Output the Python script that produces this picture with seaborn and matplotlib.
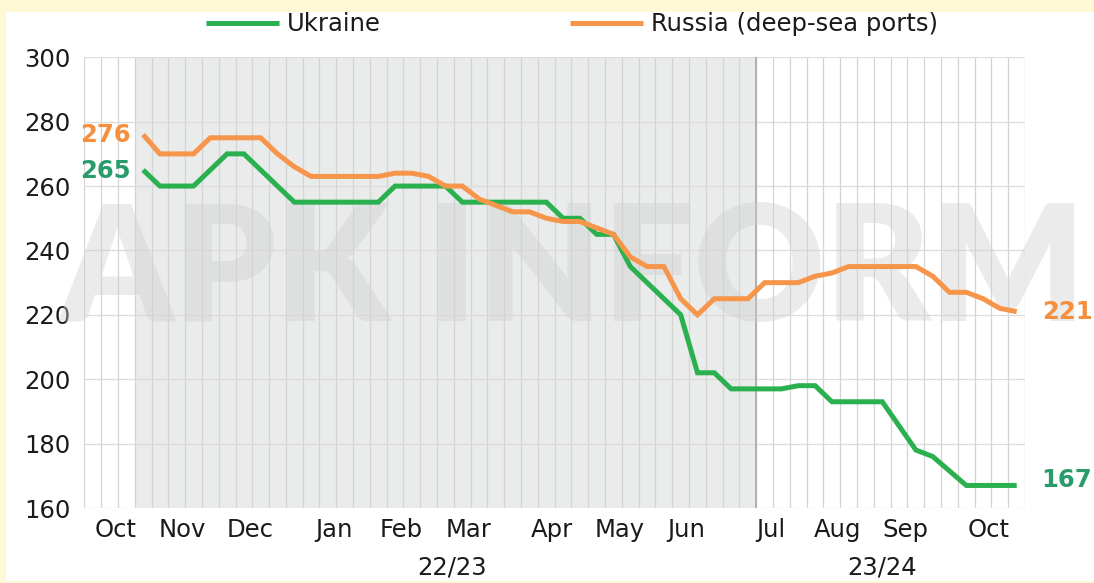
import numpy as np
import pandas as pd
import seaborn as sns
import matplotlib.pyplot as plt
from matplotlib.patches import Rectangle
from matplotlib.transforms import blended_transform_factory

# weekly prices, USD/t, first week sits in the 4th weekly slot of the axis
ukraine = [265, 260, 260, 260, 265, 270, 270, 265, 260, 255, 255, 255, 255, 255,
           255, 260, 260, 260, 260, 255, 255, 255, 255, 255, 255, 250, 250, 245,
           245, 235, 230, 225, 220, 202, 202, 197, 197, 197, 197, 198, 198, 193,
           193, 193, 193, 185.5, 178, 176, 171.5, 167, 167, 167, 167]
russia = [276, 270, 270, 270, 275, 275, 275, 275, 270, 266, 263, 263, 263, 263,
          263, 264, 264, 263, 260, 260, 256, 254, 252, 252, 250, 249, 249, 247,
          245, 238, 235, 235, 225, 220, 225, 225, 225, 230, 230, 230, 232, 233,
          235, 235, 235, 235, 235, 232, 227, 227, 225, 222, 221]
first_slot = 3
n_slots = 56
month_slots = [1, 5, 9, 14, 18, 22, 27, 31, 35, 40, 44, 48, 53]
month_labels = ['Oct', 'Nov', 'Dec', 'Jan', 'Feb', 'Mar', 'Apr', 'May', 'Jun',
                'Jul', 'Aug', 'Sep', 'Oct']
seasons = ['22/23', '23/24']
season_x = [21.9, 47.5]
season_split = 40
yticks = [160, 180, 200, 220, 240, 260, 280, 300]

green = '#2bb04f'
orange = '#f7964a'
green_lbl = '#2a9c6c'
orange_lbl = '#f58f3e'
fs = 17.5

week = np.arange(len(ukraine)) + first_slot + 0.5
df = pd.concat([
    pd.DataFrame({'week': week, 'price': ukraine, 'market': 'Ukraine'}),
    pd.DataFrame({'week': week, 'price': russia, 'market': 'Russia (deep-sea ports)'}),
])

sns.set_style('white')
plt.rcParams['font.family'] = ['DejaVu Sans']

fig = plt.figure(figsize=(10.94, 5.83), dpi=100, facecolor='#fff8d4')
fig.patches.append(Rectangle((6 / 1094, 0.004), 1, 1 - 12 / 583 - 0.004,
                             transform=fig.transFigure, facecolor='white',
                             edgecolor='none', zorder=-5))
ax = fig.add_axes([84.3 / 1094, 1 - 508 / 583, (1025.1 - 84.3) / 1094, (508 - 57.3) / 583])
ax.set_facecolor('none')

# shaded previous season + weekly grid
ax.axvspan(first_slot, season_split, color='#e9eceb', zorder=0, lw=0)
for i in range(n_slots + 1):
    ax.axvline(i, color='#d4d4d4', lw=0.9, zorder=1)
for v in yticks:
    ax.axhline(v, color='#dcdcdc', lw=0.9, zorder=1)
ax.axvline(season_split, color='#a8a8a8', lw=1.2, zorder=1)

# watermark, behind the lines
ax.text(572 / 1094, 0.53, 'APK INFORM', transform=fig.transFigure, ha='center',
        va='center', family='Lato', fontsize=116, fontweight='heavy',
        color='#cfcfcf', alpha=0.4, zorder=2, clip_on=False)

sns.lineplot(data=df, x='week', y='price', hue='market', ax=ax,
             palette={'Ukraine': green, 'Russia (deep-sea ports)': orange},
             hue_order=['Ukraine', 'Russia (deep-sea ports)'],
             lw=3.6, zorder=3, solid_joinstyle='miter', solid_capstyle='butt')

ax.set_xlim(0, n_slots)
ax.set_ylim(160, 300)
ax.set_yticks(yticks)
ax.tick_params(axis='y', length=0, labelsize=fs, pad=10, labelcolor='#1a1a1a')
ax.set_xticks(month_slots)
ax.set_xticklabels([])
ax.tick_params(axis='x', which='major', direction='in', length=8.5, width=2.4,
               color='#6b6b6b')
ax.set_xticks([m + 0.85 for m in month_slots], minor=True)
ax.set_xticklabels(month_labels, minor=True)
ax.tick_params(axis='x', which='minor', length=0, labelsize=fs, pad=7,
               labelcolor='#1a1a1a')
ax.set_xlabel('')
ax.set_ylabel('')
for s in ax.spines.values():
    s.set_visible(False)

tr = blended_transform_factory(ax.transData, ax.transAxes)
for lbl, x in zip(seasons, season_x):
    ax.text(x, -0.131, lbl, transform=tr, ha='center', va='center',
            fontsize=fs, color='#1a1a1a')

# end labels
ax.annotate(str(russia[0]), (week[0], russia[0]), xytext=(-9, 0), textcoords='offset points',
            ha='right', va='center', fontsize=fs, fontweight='bold', color=orange_lbl)
ax.annotate(str(ukraine[0]), (week[0], ukraine[0]), xytext=(-9, -1), textcoords='offset points',
            ha='right', va='center', fontsize=fs, fontweight='bold', color=green_lbl)
ax.annotate(str(russia[-1]), (week[-1], russia[-1]), xytext=(18, 0), textcoords='offset points',
            ha='left', va='center', fontsize=fs, fontweight='bold', color=orange_lbl)
ax.annotate(str(ukraine[-1]), (week[-1], ukraine[-1]), xytext=(18, 4), textcoords='offset points',
            ha='left', va='center', fontsize=fs, fontweight='bold', color=green_lbl)

sns.move_legend(ax, 'upper center', bbox_to_anchor=(572 / 1094, 1.0),
                bbox_transform=fig.transFigure, ncol=2, frameon=False, title=None,
                fontsize=fs, handlelength=3.0, handletextpad=0.33, columnspacing=7.8,
                borderaxespad=0.1)
for t in ax.get_legend().get_texts():
    t.set_color('#1a1a1a')

fig.savefig('out.png', dpi=100, facecolor=fig.get_facecolor())
